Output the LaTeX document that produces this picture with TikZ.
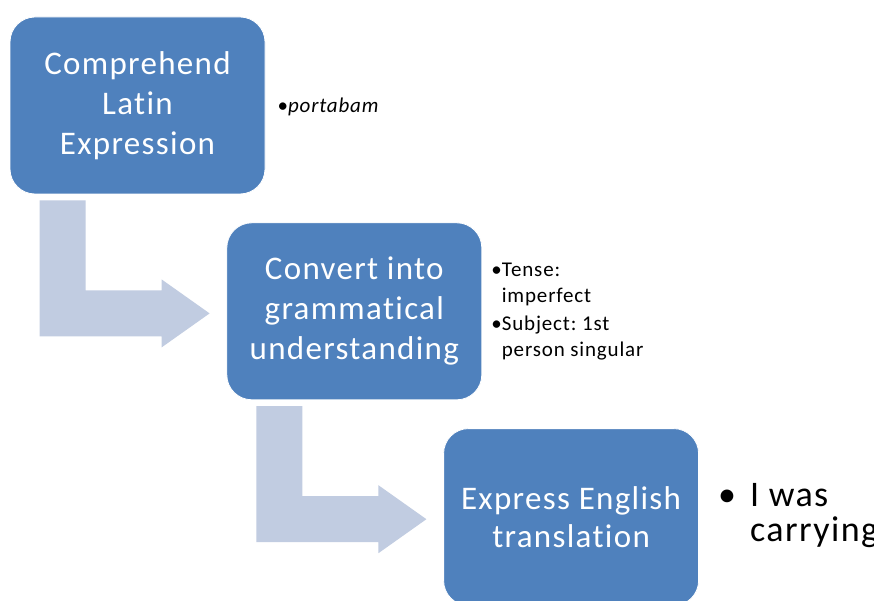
\documentclass[tikz,border=0pt]{standalone}
\usepackage{fontspec}
\setmainfont[Ligatures=NoCommon, LetterSpace=4]{Carlito}
\usepackage{tikz}
\usetikzlibrary{positioning}
\definecolor{stepblue}{HTML}{4F81BD}
\definecolor{bendgrey}{RGB}{193,204,225}
\frenchspacing

\tikzset{
	stepbox/.style={rectangle, rounded corners=25pt, fill=stepblue, draw=white, line width=0.8pt,
		minimum width=255pt, minimum height=177pt, inner sep=0pt, text=white, align=center,
		font=\fontsize{33}{40}\selectfont},
	notes/.style={inner sep=0pt, align=left, font=\fontsize{21}{25.5}\selectfont},
	bendarrow/.style={fill=bendgrey}
}

\begin{document}
\begin{tikzpicture}[x=1pt, y=-1pt]
	\useasboundingbox (0,0) rectangle (874,601);
	\fill[white] (0,0) rectangle (874,601);

	% the three steps
	\node [stepbox] (comprehend) at (137.5,105.5) {Comprehend\\Latin\\Expression};
	\node [stepbox, below right=28pt and -39pt of comprehend.south east, anchor=north west] (convert) {Convert into\\grammatical\\understanding};
	\node [stepbox, font=\fontsize{33}{38}\selectfont, below right=28pt and -39pt of convert.south east, anchor=north west] (express) {Express English\\translation};

	% bent arrows between the steps
	\foreach \from in {comprehend, convert}
		\fill[bendarrow] (\from.south west) ++(30,6) -- ++(46,0) -- ++(0,90) -- ++(76,0)
			-- ++(0,-11) -- ++(48,34) -- ++(-48,34) -- ++(0,-11) -- ++(-122,0) -- cycle;

	% notes beside each step
	\node [notes, right=12pt of comprehend.east, anchor=west, yshift=-1pt] (latin) {\textbullet\textit{portabam}};
	\node [notes, right=9pt of convert.east, anchor=west] (grammar)
		{\begin{tabular}{@{}l@{}l@{}}\textbullet & Tense:\\ & imperfect\\[3pt] \textbullet & Subject: 1st\\ & person singular\end{tabular}};
	\node [notes, font=\fontsize{36}{35}\selectfont, right=19pt of express.east, anchor=west] (english)
		{\begin{tabular}{@{}l@{\hspace{14pt}}l@{}}\textbullet & I was\\ & carrying\end{tabular}};
\end{tikzpicture}
\end{document}
